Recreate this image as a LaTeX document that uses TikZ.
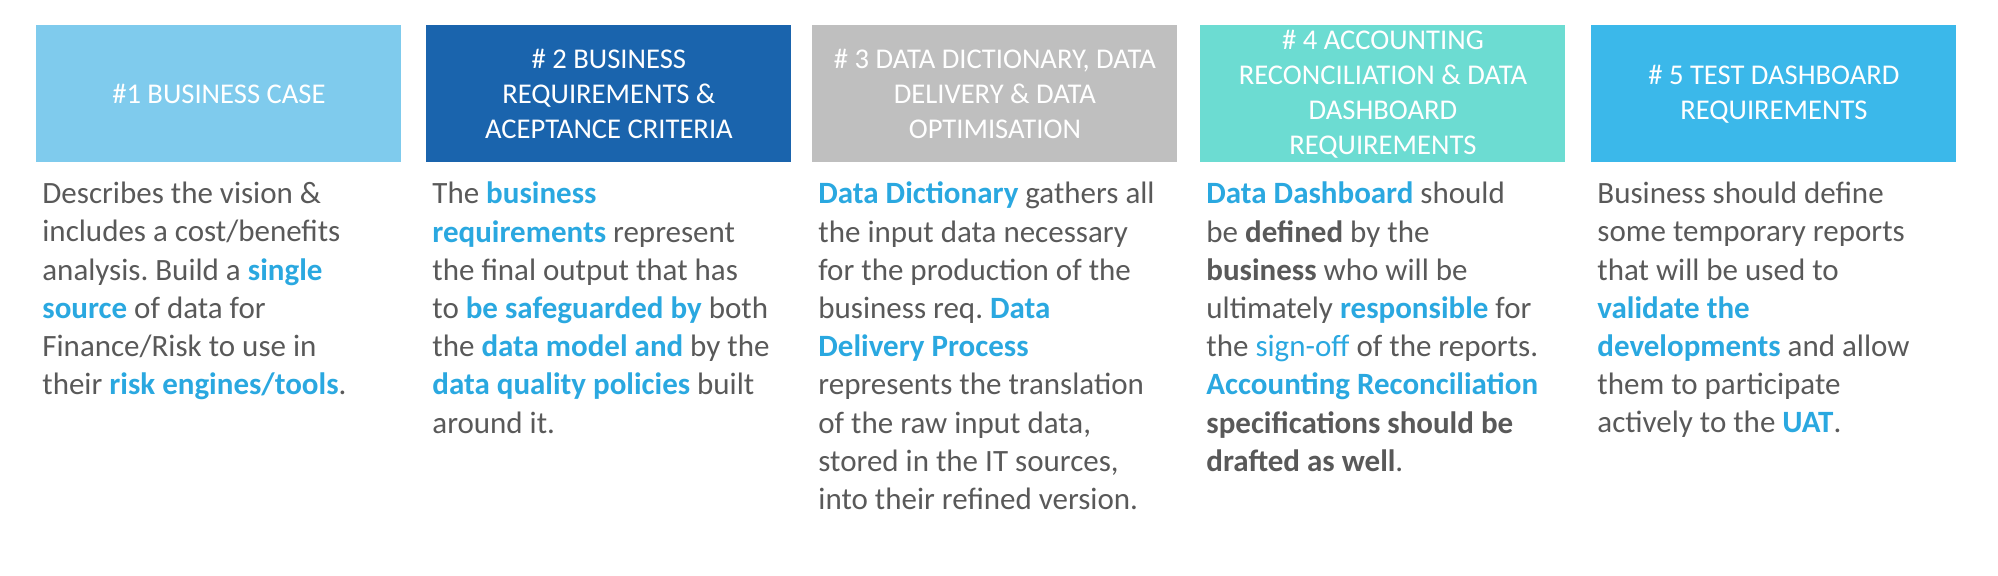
\documentclass[tikz,border=0pt]{standalone}
\usepackage{fontspec}
\setmainfont{Carlito}
\usetikzlibrary{positioning}
\frenchspacing

\definecolor{boxone}{HTML}{7FCBED}
\definecolor{boxtwo}{HTML}{1A64AD}
\definecolor{boxthree}{HTML}{BFBFBF}
\definecolor{boxfour}{HTML}{6CDCD2}
\definecolor{boxfive}{HTML}{3BB8EA}
\definecolor{keyblue}{HTML}{2AA8E0}
\definecolor{bodygrey}{HTML}{595959}

\newcommand{\keyw}[1]{\textcolor{keyblue}{\textbf{#1}}}
\newcommand{\keywn}[1]{\textcolor{keyblue}{#1}}

\begin{document}
\begin{tikzpicture}[x=0.5pt, y=-0.5pt,
  head/.style={fill=#1, text=white, minimum width=182.5pt, minimum height=68.5pt,
    inner sep=0pt, align=center, anchor=north west, font=\fontsize{14.3}{17.5}\selectfont},
  body/.style={text=bodygrey, align=left, inner sep=0pt,
    font=\fontsize{15.5}{19.1}\selectfont, below right=9.5pt and 3pt of #1}]
\useasboundingbox (0,0) rectangle (1998,576);

% the five header boxes
\foreach \i/\x/\col/\title in {1/36/boxone/{\#1 BUSINESS CASE},
    2/426/boxtwo/{\# 2 BUSINESS\\REQUIREMENTS \&\\ACEPTANCE CRITERIA},
    3/812/boxthree/{\# 3 DATA DICTIONARY, DATA\\DELIVERY \& DATA\\OPTIMISATION},
    4/1200/boxfour/{\# 4 ACCOUNTING\\RECONCILIATION \& DATA\\DASHBOARD\\REQUIREMENTS},
    5/1591/boxfive/{\# 5 TEST DASHBOARD\\REQUIREMENTS}}
  \node[head=\col] (h\i) at (\x,25) {\title};

% texts under the boxes
\node[body=h1.south west] (t1) {Describes the vision \&\\
  includes a cost/benefits\\
  analysis. Build a \keyw{single}\\
  \keyw{source} of data for\\
  Finance/Risk to use in\\
  their \keyw{risk engines/tools}.};
\node[body=h2.south west] (t2) {The \keyw{business}\\
  \keyw{requirements} represent\\
  the final output that has\\
  to \keyw{be safeguarded by} both\\
  the \keyw{data model and} by the\\
  \keyw{data quality policies} built\\
  around it.};
\node[body=h3.south west] (t3) {\keyw{Data Dictionary} gathers all\\
  the input data necessary\\
  for the production of the\\
  business req. \keyw{Data}\\
  \keyw{Delivery Process}\\
  represents the translation\\
  of the raw input data,\\
  stored in the IT sources,\\
  into their refined version.};
\node[body=h4.south west] (t4) {\keyw{Data Dashboard} should\\
  be \textbf{defined} by the\\
  \textbf{business} who will be\\
  ultimately \keyw{responsible} for\\
  the \keywn{sign-off} of the reports.\\
  \keyw{Accounting Reconciliation}\\
  \textbf{specifications should be}\\
  \textbf{drafted as well}.};
\node[body=h5.south west] (t5) {Business should define\\
  some temporary reports\\
  that will be used to\\
  \keyw{validate the}\\
  \keyw{developments} and allow\\
  them to participate\\
  actively to the \keyw{UAT}.};
\end{tikzpicture}
\end{document}
